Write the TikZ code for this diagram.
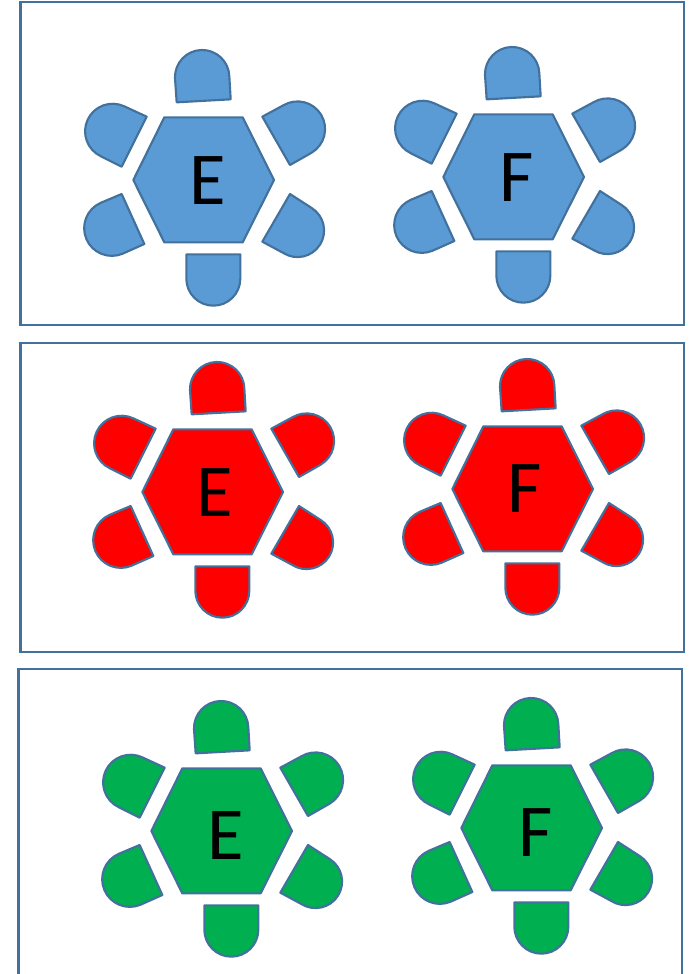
\documentclass[tikz,border=0pt]{standalone}
\usepackage{fontspec}
\setmainfont{Carlito}
\definecolor{edge}{HTML}{41719C}
\definecolor{tblue}{HTML}{5B9BD5}
\definecolor{tred}{HTML}{FF0000}
\definecolor{tgreen}{HTML}{00B050}
\tikzset{
  frame/.style={draw=edge,line width=1.6pt},
  part/.style={draw=edge,line width=1.6pt,line join=round},
  letter/.style={inner sep=0pt,font=\fontsize{56}{56}\selectfont,text=black},
}
% seat: a--b--c, half circle c to d, back to a (clockwise on screen)
\newcommand{\seatshape}[9]{%
  \pgfmathsetmacro{\mx}{(#5+#7)/2}\pgfmathsetmacro{\my}{(#6+#8)/2}%
  \pgfmathsetmacro{\ang}{atan2(#6-\my,#5-\mx)}%
  \pgfmathsetmacro{\rad}{veclen(#5-\mx,#6-\my)}%
  \draw[part,fill=#9] (#1,#2) -- (#3,#4) -- (#5,#6) arc[start angle=\ang,delta angle=180,radius=\rad] -- cycle;
}
% table with six seats: dx, dy, colour, name, letter, letter x, letter y, extra dx of the top seat
\newcommand{\turtle}[8]{%
  \begin{scope}[shift={(70+#1,40+#2)},x=0.25pt,y=-0.25pt]
    \draw[part,fill=#3] (283,232) -- (518,232) -- (612,420) -- (518,607) -- (283,607) -- (190,420) -- cycle;
    \begin{scope}[xshift=#8*0.75pt]
      \seatshape{482}{178}{320}{187}{315}{114}{478}{109}{#3}
    \end{scope}
    \seatshape{660}{375}{577}{230}{640}{196}{725}{338}{#3}
    \seatshape{577}{605}{660}{462}{725}{504}{640}{639}{#3}
    \seatshape{349}{643}{511}{643}{511}{716}{349}{716}{#3}
    \seatshape{155}{462}{223}{612}{158}{641}{93}{488}{#3}
    \seatshape{230}{230}{155}{380}{93}{349}{163}{199}{#3}
  \end{scope}
  \node[letter] (#4) at (#6,#7) {#5};
}
\begin{document}
\begin{tikzpicture}[x=0.75pt,y=-0.75pt]
  \useasboundingbox (0,0) rectangle (697,974);
  \clip (0,0) rectangle (697,974);
  \draw[frame] (20.5,2) rectangle (684,325);
  \draw[frame] (20.5,343) rectangle (684,652);
  \draw[frame] (18.5,669) rectangle (682,990);
  \turtle{0}{0}{tblue}{blueE}{E}{207.5}{181}{0}
  \turtle{310}{-3}{tblue}{blueF}{F}{517}{178}{0}
  \turtle{9}{312}{tred}{redE}{E}{214.5}{493}{6}
  \turtle{319}{309}{tred}{redF}{F}{524.5}{489}{6}
  \turtle{18}{651}{tgreen}{greenE}{E}{225.5}{836}{1}
  \turtle{328}{648}{tgreen}{greenF}{F}{535.5}{833}{1}
\end{tikzpicture}
\end{document}
